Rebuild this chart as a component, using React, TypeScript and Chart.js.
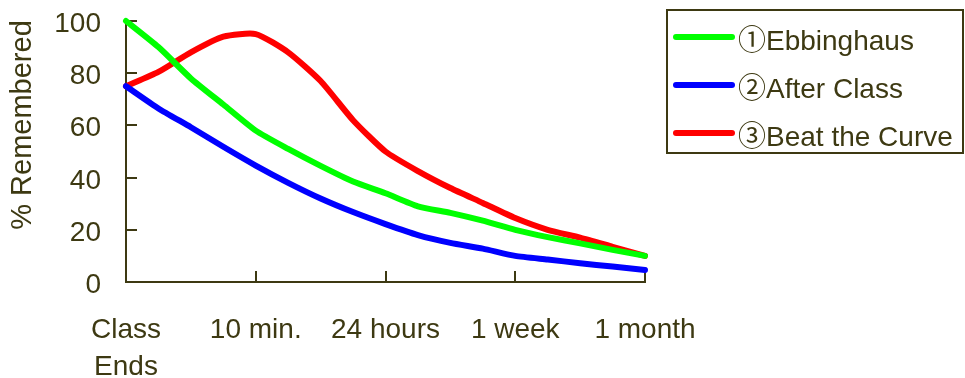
import { useEffect, useRef } from 'react';
import { Chart, registerables } from 'chart.js';

Chart.register(...registerables);

// Sample positions along the time axis (quarter steps between labelled milestones)
const samplePositions = [0, 0.25, 0.5, 0.75, 1, 1.25, 1.5, 1.75, 2, 2.25, 2.5, 2.75, 3, 3.25, 3.5, 3.75, 4];

// Milestone labels on the time axis
const milestoneLabels: string[][] = [['Class', 'Ends'], ['10 min.'], ['24 hours'], ['1 week'], ['1 month']];
const milestonePositions = [0, 1, 2, 3, 4];

const seriesNames = ['①Ebbinghaus', '②After Class', '③Beat the Curve'];
const seriesColors = ['#00ff00', '#0000ff', '#ff0000'];

// % remembered at each sample position
const ebbinghaus = [100, 90, 78, 68, 58, 51, 44.5, 38.5, 34, 29, 26.5, 23.5, 20, 17.2, 14.8, 12.3, 10];
const afterClass = [75, 66.5, 59.3, 51.8, 44.6, 38, 32, 26.8, 22.2, 18, 15, 12.8, 10, 8.6, 7.2, 5.9, 4.6];
const beatTheCurve = [75, 80.5, 88, 94, 95, 88, 77, 62, 50, 42.5, 36, 30.3, 24.5, 20, 17, 13.5, 10];

const yMin = 0;
const yMax = 100;
const yStep = 20;

const ink = '#3d3912';
const fontFamily = '"Liberation Sans", Arial, "Noto Sans CJK JP", sans-serif';
const font = `28px ${fontFamily}`;

const toPoints = (values: number[]) => values.map((v, i) => ({ x: samplePositions[i], y: v }));

// Inward tick marks, tick labels, rotated axis title and boxed legend
const decorations = {
  id: 'decorations',
  beforeDatasetsDraw(chart: any) {
    const { ctx, chartArea, scales } = chart;
    ctx.save();
    ctx.strokeStyle = ink;
    ctx.lineWidth = 2;
    const tickLen = 11;
    scales.y.ticks.forEach((t: any) => {
      const py = Math.round(scales.y.getPixelForValue(t.value));
      ctx.beginPath();
      ctx.moveTo(chartArea.left, py);
      ctx.lineTo(chartArea.left + tickLen, py);
      ctx.stroke();
    });
    scales.x.ticks.forEach((t: any) => {
      const px = Math.round(scales.x.getPixelForValue(t.value));
      ctx.beginPath();
      ctx.moveTo(px, chartArea.bottom);
      ctx.lineTo(px, chartArea.bottom - tickLen);
      ctx.stroke();
    });

    // tick labels
    ctx.fillStyle = ink;
    ctx.font = font;
    ctx.textBaseline = 'alphabetic';
    ctx.textAlign = 'right';
    scales.y.ticks.forEach((t: any) => {
      const py = scales.y.getPixelForValue(t.value);
      ctx.fillText(String(t.value), chartArea.left - 25, py + 11);
    });
    ctx.textAlign = 'center';
    milestonePositions.forEach((pos, i) => {
      const px = scales.x.getPixelForValue(pos);
      milestoneLabels[i].forEach((line, j) => {
        ctx.fillText(line, px, chartArea.bottom + 56 + j * 37);
      });
    });
    ctx.restore();
  },
  afterDraw(chart: any) {
    const { ctx } = chart;
    ctx.save();
    // y-axis title
    ctx.translate(23, 125);
    ctx.rotate(-Math.PI / 2);
    ctx.fillStyle = ink;
    ctx.font = `29px ${fontFamily}`;
    ctx.textAlign = 'center';
    ctx.textBaseline = 'middle';
    ctx.fillText('% Remembered', 0, 0);
    ctx.restore();

    // legend box
    ctx.save();
    ctx.strokeStyle = ink;
    ctx.lineWidth = 2;
    ctx.strokeRect(667, 10, 296, 143);
    chart.data.datasets.forEach((ds: any, i: number) => {
      const cy = 37 + i * 48;
      ctx.strokeStyle = ds.borderColor;
      ctx.lineWidth = 6;
      ctx.lineCap = 'round';
      ctx.beginPath();
      ctx.moveTo(676, cy);
      ctx.lineTo(732, cy);
      ctx.stroke();
      ctx.fillStyle = ink;
      ctx.font = font;
      ctx.textAlign = 'left';
      ctx.textBaseline = 'alphabetic';
      ctx.fillText(ds.label, 738, cy + 13);
    });
    ctx.restore();
  },
};

export default function App() {
  const canvasRef = useRef<HTMLCanvasElement | null>(null);

  useEffect(() => {
    if (!canvasRef.current) return;
    const series = [ebbinghaus, afterClass, beatTheCurve];
    const chart = new Chart(canvasRef.current, {
      type: 'line',
      data: {
        datasets: series.map((values, i) => ({
          label: seriesNames[i],
          data: toPoints(values),
          borderColor: seriesColors[i],
          backgroundColor: seriesColors[i],
          borderWidth: 6,
          pointRadius: 0,
          tension: 0.2,
          borderCapStyle: 'round',
          borderJoinStyle: 'round',
          clip: false,
        })),
      },
      options: {
        responsive: false,
        animation: false,
        devicePixelRatio: 1,
        layout: { padding: { top: 21, right: 320, left: 0, bottom: 0 } },
        plugins: { legend: { display: false }, tooltip: { enabled: false } },
        scales: {
          x: {
            type: 'linear',
            min: 0,
            max: 4,
            afterBuildTicks: (scale: any) => {
              scale.ticks = milestonePositions.map((v) => ({ value: v }));
            },
            afterFit: (scale: any) => {
              scale.height = 96;
              scale.paddingLeft = 0;
              scale.paddingRight = 0;
            },
            ticks: { display: false },
            grid: { display: false },
            border: { display: true, color: ink, width: 2 },
          },
          y: {
            min: yMin,
            max: yMax,
            afterFit: (scale: any) => {
              scale.width = 126;
              scale.paddingTop = 0;
              scale.paddingBottom = 0;
            },
            ticks: { display: false, stepSize: yStep },
            grid: { display: false },
            border: { display: true, color: ink, width: 2 },
          },
        },
      },
      plugins: [decorations],
    });
    return () => chart.destroy();
  }, []);

  return (
    <div style={{ position: 'fixed', left: 0, top: 0, width: 965, height: 378, background: '#fff' }}>
      <canvas ref={canvasRef} width={965} height={378} />
    </div>
  );
}
